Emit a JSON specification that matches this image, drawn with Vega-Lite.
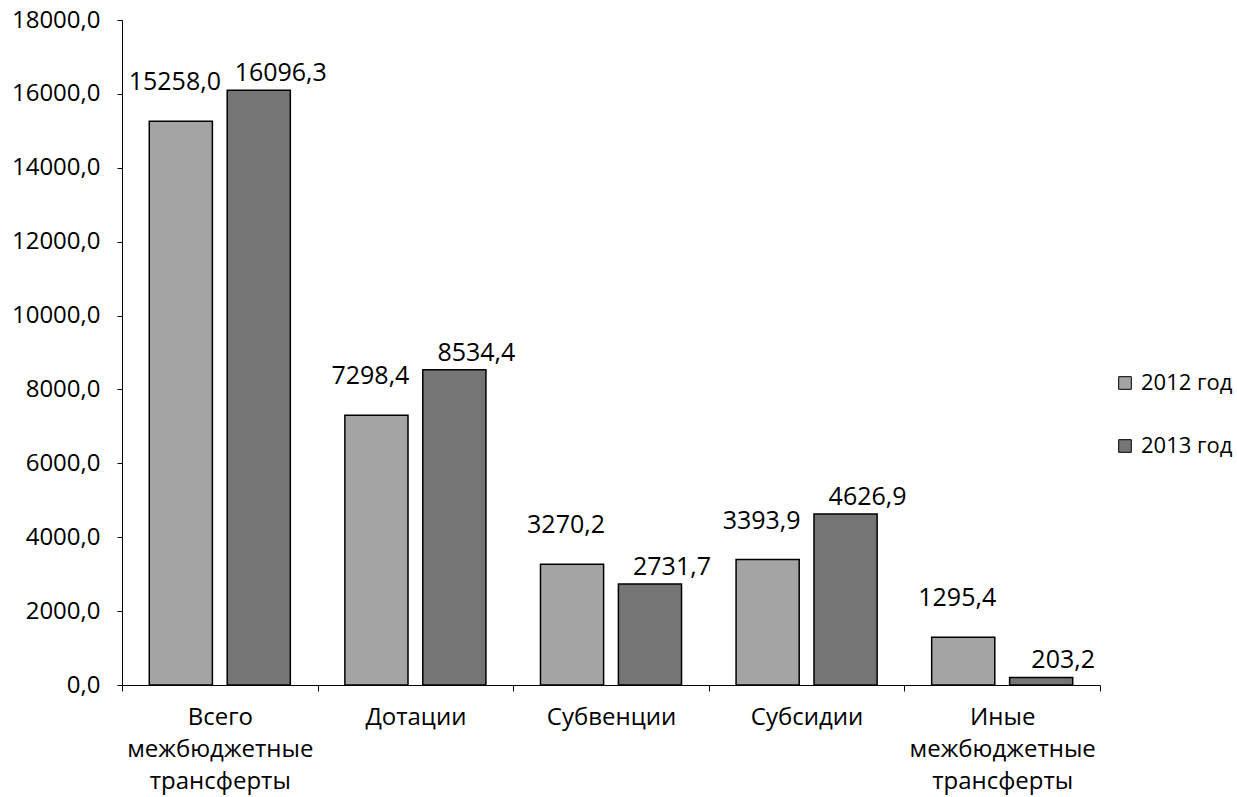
{
  "$schema": "https://vega.github.io/schema/vega-lite/v6.json",
  "width": 978,
  "height": 665,
  "autosize": "none",
  "padding": {"left": 122, "top": 20, "right": 137, "bottom": 112},
  "background": "white",
  "config": {
    "locale": {"number": {"decimal": ",", "thousands": "", "grouping": [3], "currency": ["", ""]}},
    "font": "Open Sans",
    "view": {"stroke": null},
    "axis": {"labelFont": "Open Sans", "labelColor": "black", "domainColor": "black", "tickColor": "black", "grid": false}
  },
  "data": {
    "values": [
      {"cat": "Всего|межбюджетные|трансферты", "year": "2012 год", "value": 15258.0},
      {"cat": "Всего|межбюджетные|трансферты", "year": "2013 год", "value": 16096.3},
      {"cat": "Дотации", "year": "2012 год", "value": 7298.4},
      {"cat": "Дотации", "year": "2013 год", "value": 8534.4},
      {"cat": "Субвенции", "year": "2012 год", "value": 3270.2},
      {"cat": "Субвенции", "year": "2013 год", "value": 2731.7},
      {"cat": "Субсидии", "year": "2012 год", "value": 3393.9},
      {"cat": "Субсидии", "year": "2013 год", "value": 4626.9},
      {"cat": "Иные|межбюджетные|трансферты", "year": "2012 год", "value": 1295.4},
      {"cat": "Иные|межбюджетные|трансферты", "year": "2013 год", "value": 203.2}
    ]
  },
  "encoding": {
    "x": {
      "field": "cat", "type": "nominal", "sort": null,
      "scale": {"paddingInner": 0, "paddingOuter": 0},
      "axis": {
        "title": null, "labelAngle": 0, "labelFontSize": 24, "labelPadding": 14,
        "labelExpr": "split(datum.label, '|')", "labelLineHeight": 32, "labelLimit": 300,
        "tickBand": "extent", "tickSize": 6, "labelBaseline": "top"
      }
    },
    "xOffset": {
      "field": "year", "type": "nominal",
      "scale": {"paddingInner": 0.19, "paddingOuter": 0.35}
    },
    "y": {
      "field": "value", "type": "quantitative",
      "scale": {"domain": [0, 18000], "nice": false},
      "axis": {
        "title": null, "values": [0, 2000, 4000, 6000, 8000, 10000, 12000, 14000, 16000, 18000],
        "format": ".1f",
        "labelFontSize": 24, "tickSize": 5, "labelPadding": 17
      }
    }
  },
  "layer": [
    {
      "mark": {"type": "bar", "stroke": "black", "strokeWidth": 1.5},
      "encoding": {
        "color": {
          "field": "year", "type": "nominal",
          "scale": {"domain": ["2012 год", "2013 год"], "range": ["#a4a4a4", "#757575"]},
          "legend": {
            "title": null, "orient": "none", "legendX": 992, "legendY": 352,
            "labelFontSize": 22, "labelColor": "black", "labelLimit": 200, "symbolType": "square",
            "symbolSize": 160, "symbolStrokeColor": "black", "symbolStrokeWidth": 1,
            "rowPadding": 41, "labelOffset": 5
          }
        }
      }
    },
    {
      "transform": [{"filter": "datum.year == '2012 год'"}],
      "mark": {"type": "text", "baseline": "alphabetic", "dy": -31, "dx": -6, "fontSize": 25, "color": "black"},
      "encoding": {
        "text": {"field": "value", "type": "quantitative", "format": ".1f"}
      }
    },
    {
      "transform": [{"filter": "datum.year == '2013 год'"}],
      "mark": {"type": "text", "baseline": "alphabetic", "dy": -9, "dx": 22, "fontSize": 25, "color": "black"},
      "encoding": {
        "text": {"field": "value", "type": "quantitative", "format": ".1f"}
      }
    }
  ]
}
